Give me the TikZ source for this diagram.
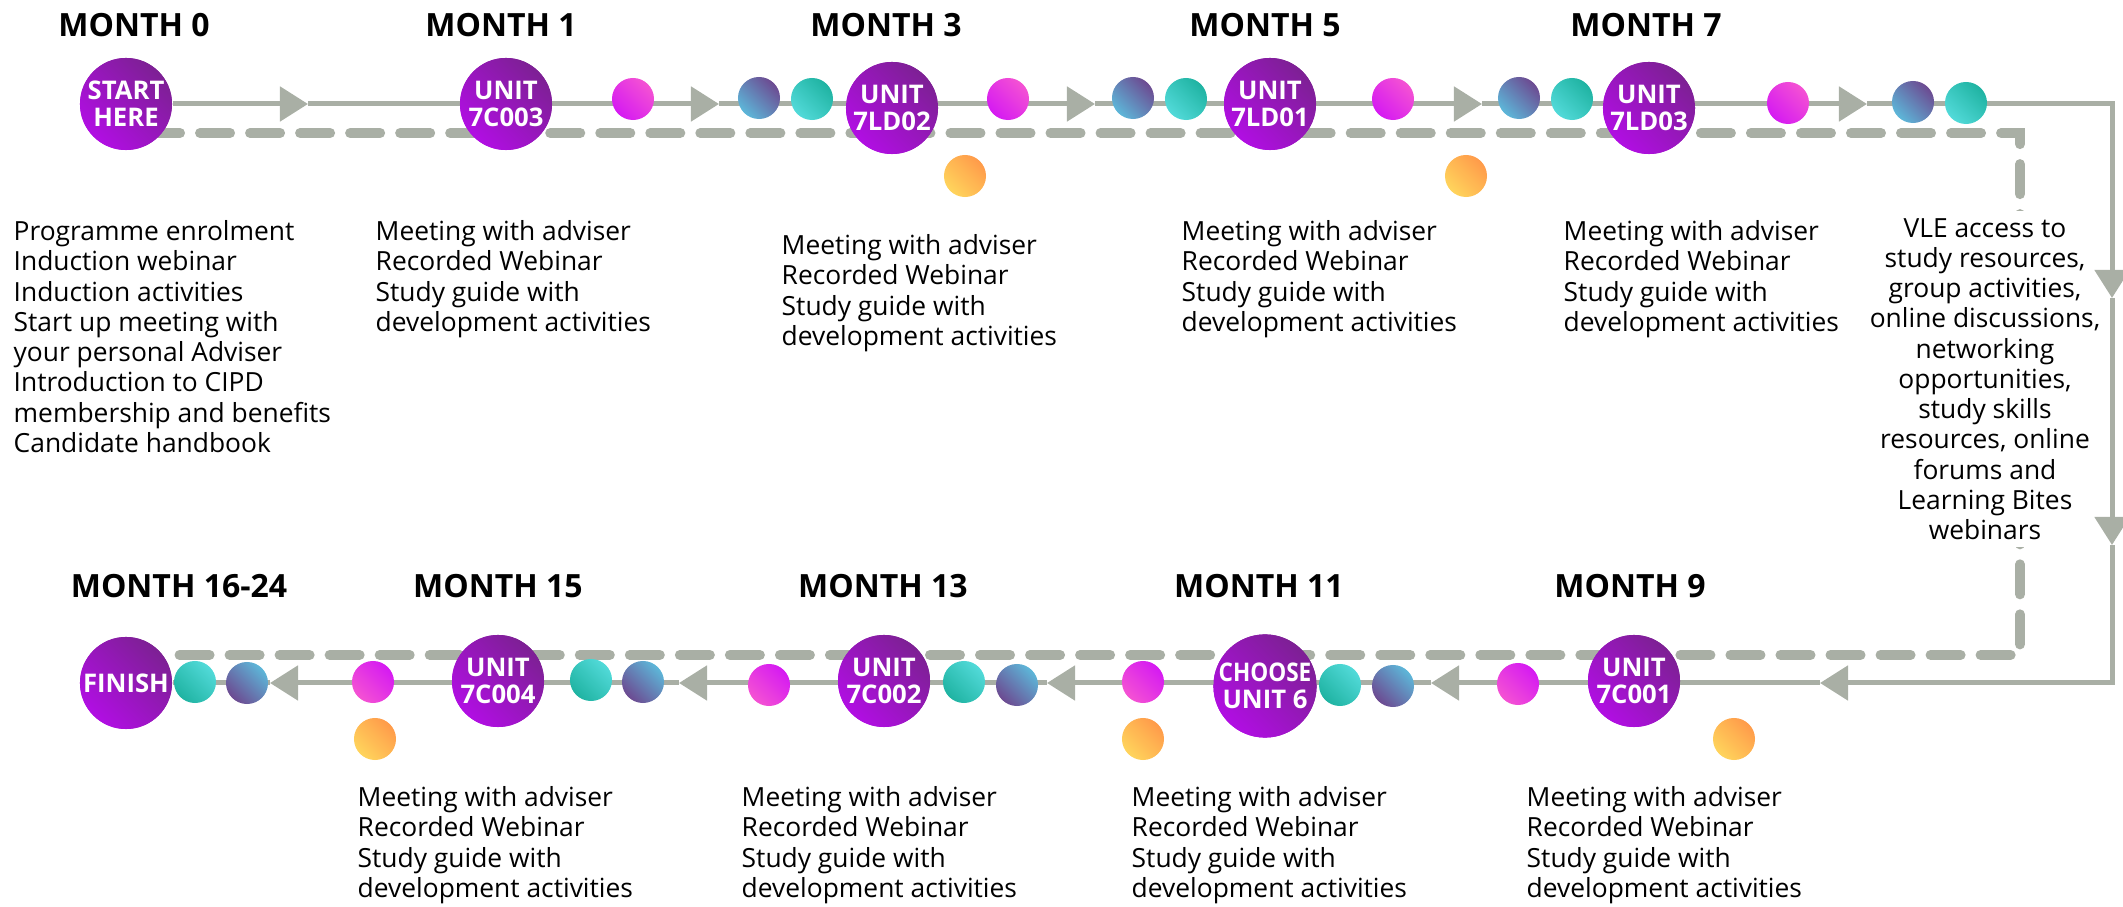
\documentclass[tikz,border=0pt]{standalone}
\usepackage{fontspec}
\setmainfont{Open Sans}
\usetikzlibrary{arrows.meta}
\definecolor{lineg}{HTML}{A9AFA5}
\definecolor{bigB}{HTML}{B10EE3}
\definecolor{bigD}{HTML}{7D2094}
\definecolor{pinkC}{HTML}{F452D3}
\definecolor{magC}{HTML}{D51AF2}
\definecolor{lblue}{HTML}{5DB7D9}
\definecolor{dpurple}{HTML}{6C4A91}
\definecolor{lteal}{HTML}{52DAD9}
\definecolor{dteal}{HTML}{1FB3A2}
\definecolor{yel}{HTML}{FFD45C}
\definecolor{org}{HTML}{FF9B4A}
\begin{document}
\begin{tikzpicture}[x=0.01cm,y=-0.01cm,
  flow/.style={draw=lineg, line width=0.05cm},
  tip/.style={-{Triangle[length=0.28cm,width=0.34cm]}},
  dashline/.style={draw=lineg, line width=0.1cm, line cap=round, dash pattern=on 0.3cm off 0.2cm},
  head/.style={anchor=base, font=\fontsize{9.1pt}{10pt}\selectfont\bfseries},
  big/.style={circle, minimum size=0.92cm, inner sep=0pt, align=center, text=white,
    font=\fontsize{7.3pt}{7.6pt}\selectfont\bfseries, left color=bigB, right color=bigD, shading angle=135},
  dot/.style={circle, minimum size=0.42cm, inner sep=0pt},
  magT/.style={dot, left color=magC, right color=pinkC, shading angle=135},
  bluT/.style={dot, left color=lblue, right color=dpurple, shading angle=135},
  tealT/.style={dot, left color=lteal, right color=dteal, shading angle=135},
  magB/.style={dot, left color=magC, right color=pinkC, shading angle=315},
  bluB/.style={dot, left color=lblue, right color=dpurple, shading angle=315},
  tealB/.style={dot, left color=lteal, right color=dteal, shading angle=315},
  orangeD/.style={dot, left color=yel, right color=org, shading angle=135},
  bodyfont/.style={font=\fontsize{7.5pt}{8.6pt}\selectfont},
  body/.style={anchor=north west, align=left, inner sep=0pt, bodyfont},
]
\useasboundingbox (0,0) rectangle (2123,907);

% coordinates
\coordinate (t1) at (308,104);
\coordinate (t2) at (719,104);
\coordinate (t3) at (1095,104);
\coordinate (t4) at (1482,104);
\coordinate (t5) at (1867,104);
\coordinate (k1) at (2112,104);
\coordinate (t6) at (2112,298);
\coordinate (t7) at (2112,545);
\coordinate (k2) at (2112,683);
\coordinate (t8) at (1820,683);
\coordinate (t9) at (1431,683);
\coordinate (t10) at (1047,683);
\coordinate (t11) at (679,683);
\coordinate (t12) at (270,683);
\coordinate (d1) at (150,133);
\coordinate (d2) at (2020,133);
\coordinate (d3) at (2020,655);
\coordinate (d4) at (160,655);

% dashed route
\draw[dashline] (d1) -- (d2) -- (d3) -- (d4);

% VLE text
\node[align=center, fill=white, inner sep=2pt, bodyfont] (vle) at (1985,379)
 {VLE access to\\study resources,\\group activities,\\online discussions,\\networking\\opportunities,\\study skills\\resources, online\\forums and\\Learning Bites\\webinars};

% big circles (positions)
\node[big] (start) at (126,104) {START\\HERE};
\node[big] (u1) at (506,104) {UNIT\\7C003};
\node[big] (u2) at (892,108) {UNIT\\7LD02};
\node[big] (u3) at (1270,104) {UNIT\\7LD01};
\node[big] (u4) at (1649,108) {UNIT\\7LD03};
\node[big] (u5) at (1634,681) {UNIT\\7C001};
\node[big] (u6) at (1265,686) {\scalebox{0.88}[1]{CHOOSE}\\UNIT 6};
\node[big] (u7) at (884,681) {UNIT\\7C002};
\node[big] (u8) at (498,681) {UNIT\\7C004};
\node[big] (finish) at (126,683) {FINISH};

% solid flow
\draw[flow,tip] (start) -- (t1);
\draw[flow,tip] (t1) -- (t2);
\draw[flow,tip] (t2) -- (t3);
\draw[flow,tip] (t3) -- (t4);
\draw[flow,tip] (t4) -- (t5);
\draw[flow,tip] (t5) -- (k1) -- (t6);
\draw[flow,tip] (t6) -- (t7);
\draw[flow,tip] (t7) -- (k2) -- (t8);
\draw[flow,tip] (t8) -- (t9);
\draw[flow,tip] (t9) -- (t10);
\draw[flow,tip] (t10) -- (t11);
\draw[flow,tip] (t11) -- (t12);
\draw[flow] (t12) -- (finish);

% big circles drawn again over the solid line
\node[big] at (start) {START\\HERE};
\node[big] at (u1) {UNIT\\7C003};
\node[big] at (u2) {UNIT\\7LD02};
\node[big] at (u3) {UNIT\\7LD01};
\node[big] at (u4) {UNIT\\7LD03};
\node[big] at (u5) {UNIT\\7C001};
\node[big] at (u6) {\scalebox{0.88}[1]{CHOOSE}\\UNIT 6};
\node[big] at (u7) {UNIT\\7C002};
\node[big] at (u8) {UNIT\\7C004};
\node[big] at (finish) {FINISH};

% small dots top
\node[magT] (m1) at (633,99) {};
\node[bluT] (b1) at (759,98) {};
\node[tealT] (c1) at (812,99) {};
\node[magT] (m2) at (1008,99) {};
\node[bluT] (b2) at (1133,98) {};
\node[tealT] (c2) at (1186,99) {};
\node[magT] (m3) at (1393,99) {};
\node[bluT] (b3) at (1519,98) {};
\node[tealT] (c3) at (1572,99) {};
\node[magT] (m4) at (1788,103) {};
\node[bluT] (b4) at (1913,102) {};
\node[tealT] (c4) at (1966,103) {};
\node[orangeD] (o1) at (965,176) {};
\node[orangeD] (o2) at (1466,176) {};

% small dots bottom
\node[magB] (m5) at (1518,684) {};
\node[bluB] (b5) at (1393,686) {};
\node[tealB] (c5) at (1340,685) {};
\node[magB] (m6) at (1143,682) {};
\node[bluB] (b6) at (1017,685) {};
\node[tealB] (c6) at (964,682) {};
\node[magB] (m7) at (769,685) {};
\node[bluB] (b7) at (643,682) {};
\node[tealB] (c7) at (591,680) {};
\node[magB] (m8) at (373,682) {};
\node[bluB] (b8) at (247,683) {};
\node[tealB] (c8) at (195,682) {};
\node[orangeD] (o3) at (375,739) {};
\node[orangeD] (o4) at (1143,739) {};
\node[orangeD] (o5) at (1734,739) {};

% headings
\node[head] (h0) at (134,37) {MONTH 0};
\node[head] (h1) at (501,37) {MONTH 1};
\node[head] (h3) at (886,37) {MONTH 3};
\node[head] (h5) at (1265,37) {MONTH 5};
\node[head] (h7) at (1646,37) {MONTH 7};
\node[head] (h24) at (179,598) {MONTH 16-24};
\node[head] (h15) at (498,598) {MONTH 15};
\node[head] (h13) at (883,598) {MONTH 13};
\node[head] (h11) at (1259,598) {MONTH 11};
\node[head] (h9) at (1630,598) {MONTH 9};

% text blocks
\node[body] (x0) at (13,220) {Programme enrolment\\Induction webinar\\Induction activities\\Start up meeting with\\your personal Adviser\\Introduction to CIPD\\membership and benefits\\Candidate handbook};
\node[body] (x1) at (375,220) {Meeting with adviser\\Recorded Webinar\\Study guide with\\development activities};
\node[body] (x3) at (781,234) {Meeting with adviser\\Recorded Webinar\\Study guide with\\development activities};
\node[body] (x5) at (1181,220) {Meeting with adviser\\Recorded Webinar\\Study guide with\\development activities};
\node[body] (x7) at (1563,220) {Meeting with adviser\\Recorded Webinar\\Study guide with\\development activities};
\node[body] (x15) at (357,786) {Meeting with adviser\\Recorded Webinar\\Study guide with\\development activities};
\node[body] (x13) at (741,786) {Meeting with adviser\\Recorded Webinar\\Study guide with\\development activities};
\node[body] (x11) at (1131,786) {Meeting with adviser\\Recorded Webinar\\Study guide with\\development activities};
\node[body] (x9) at (1526,786) {Meeting with adviser\\Recorded Webinar\\Study guide with\\development activities};
\end{tikzpicture}
\end{document}
